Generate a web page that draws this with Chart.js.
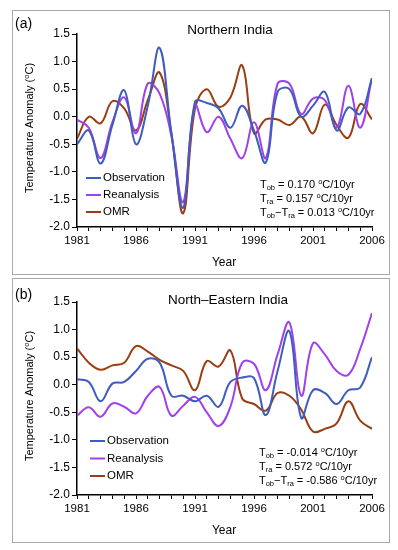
<!DOCTYPE html>
<html>
<head>
<meta charset="utf-8">
<script src="https://cdn.jsdelivr.net/npm/chart.js@4.4.0/dist/chart.umd.min.js"></script>
<style>
  body { margin: 0; background: #fff; }
  canvas { position: absolute; left: 12px; }
  #northChart { top: 10px; }
  #neChart { top: 278px; }
</style>
</head>
<body>
<canvas id="northChart" width="378" height="265"></canvas>
<canvas id="neChart" width="378" height="265"></canvas>
<script>
// years on the x axis, labelled every 5 years
const years = [1981, 1982, 1983, 1984, 1985, 1986, 1987, 1988, 1989, 1990, 1991, 1992, 1993,
               1994, 1995, 1996, 1997, 1998, 1999, 2000, 2001, 2002, 2003, 2004, 2005, 2006];
const yearLabels = [1981, 1986, 1991, 1996, 2001, 2006];
const seriesNames = ['Observation', 'Reanalysis', 'OMR'];

// (a) Northern India
const obsNorth = [-0.5, -0.25, -0.85, -0.15, 0.48, -0.5, 0.2, 1.25, -0.3, -1.65, 0.27, 0.25, 0.15,
                  -0.2, 0.2, -0.25, -0.83, 0.45, 0.5, 0.0, 0.2, 0.45, -0.25, 0.17, 0.05, 0.7];
const reaNorth = [-0.05, -0.2, -0.75, -0.1, 0.35, -0.3, 0.6, 0.42, -0.35, -1.55, 0.2, -0.28, 0.0,
                  -0.4, -0.75, -0.1, -0.75, 0.6, 0.6, 0.05, 0.33, 0.3, -0.2, 0.56, -0.2, 0.7];
const omrNorth = [-0.4, 0.0, -0.12, 0.28, 0.15, -0.25, 0.3, 0.8, -0.3, -1.75, 0.15, 0.5, 0.18,
                  0.35, 0.93, -0.3, -0.05, -0.05, -0.15, 0.0, -0.3, 0.22, -0.15, -0.38, 0.23, -0.05];
const trendNorth = ['0.170', '0.157', '0.013'];

// (b) North-Eastern India
const obsNE = [0.1, 0.05, -0.3, 0.02, 0.05, 0.25, 0.47, 0.4, -0.2, -0.2, -0.3, -0.2, -0.4,
               0.05, 0.13, 0.12, -0.55, 0.25, 0.97, -0.6, -0.1, -0.15, -0.35, -0.1, -0.05, 0.5];
const reaNE = [-0.56, -0.41, -0.58, -0.34, -0.4, -0.52, -0.2, -0.04, -0.56, -0.38, -0.22, -0.5, -0.75,
               -0.4, 0.4, 0.38, -0.1, 0.55, 1.13, -0.2, 0.75, 0.55, 0.25, 0.18, 0.65, 1.3];
const omrNE = [0.66, 0.4, 0.27, 0.35, 0.4, 0.7, 0.6, 0.45, 0.35, 0.25, -0.1, 0.43, 0.33,
               0.62, -0.25, -0.35, -0.47, -0.15, -0.2, -0.45, -0.85, -0.8, -0.7, -0.3, -0.65, -0.8];
const trendNE = ['-0.014', '0.572', '-0.586'];

const colors = ['#3f5cbf', '#a040ea', '#9a3d12'];
const fontFam = '"Liberation Sans", Arial, sans-serif';
Chart.defaults.color = '#000';
Chart.defaults.font.family = fontFam;

function drawRich(ctx, x, y, parts, size, dryRun) {
  let cx = x;
  parts.forEach(p => {
    const small = p.sub || p.sup;
    ctx.font = (small ? size * 0.68 : size) + 'px ' + fontFam;
    const dy = p.sub ? size * 0.3 : (p.sup ? -size * 0.32 : 0);
    if (!dryRun) ctx.fillText(p.t, cx, y + dy);
    cx += ctx.measureText(p.t).width;
  });
  return cx - x;
}

const panelText = {
  id: 'panelText',
  afterDraw(chart, args, o) {
    const ctx = chart.ctx;
    ctx.save();
    ctx.strokeStyle = '#a8a8a8';
    ctx.lineWidth = 1;
    ctx.strokeRect(0.5, 0.5, chart.width - 1, chart.height - 1);
    ctx.fillStyle = '#000';
    ctx.textBaseline = 'middle';
    ctx.textAlign = 'left';

    ctx.font = '14px ' + fontFam;
    ctx.fillText(o.tag, 3, o.tagY);
    ctx.textAlign = 'center';
    ctx.font = '13.5px ' + fontFam;
    ctx.fillText(o.title, o.titleX, o.titleY);
    ctx.font = '12px ' + fontFam;
    ctx.fillText('Year', 212, 253);

    // y axis title, rotated
    const yParts = [{ t: 'Temperature Anomaly (' }, { t: 'o', sup: true }, { t: 'C)' }];
    ctx.textAlign = 'left';
    const w = drawRich(ctx, 0, 0, yParts, 11, true);
    ctx.save();
    ctx.translate(18, 118);
    ctx.rotate(-Math.PI / 2);
    drawRich(ctx, -w / 2, 0, yParts, 11);
    ctx.restore();

    // legend
    seriesNames.forEach((name, i) => {
      const ly = o.legY + i * o.legGap;
      ctx.strokeStyle = colors[i];
      ctx.lineWidth = 2;
      ctx.beginPath();
      ctx.moveTo(o.legX, ly);
      ctx.lineTo(o.legX + 15, ly);
      ctx.stroke();
      ctx.font = '11.5px ' + fontFam;
      ctx.fillText(name, o.legX + 17, ly);
    });

    // trend text
    const t = o.trend;
    const rows = [
      [{ t: 'T' }, { t: 'ob', sub: true }, { t: ' = ' + t[0] + ' ' }, { t: 'o', sup: true }, { t: 'C/10yr' }],
      [{ t: 'T' }, { t: 'ra', sub: true }, { t: ' = ' + t[1] + ' ' }, { t: 'o', sup: true }, { t: 'C/10yr' }],
      [{ t: 'T' }, { t: 'ob', sub: true }, { t: '\u2212T' }, { t: 'ra', sub: true }, { t: ' = ' + t[2] + ' ' }, { t: 'o', sup: true }, { t: 'C/10yr' }]
    ];
    rows.forEach((r, i) => drawRich(ctx, o.trX, o.trY + i * 14, r, 11));
    ctx.restore();
  }
};

function makePanel(id, obs, rea, omr, text) {
  const pts = arr => years.map((yr, i) => ({ x: yr, y: arr[i] }));
  new Chart(document.getElementById(id), {
    type: 'line',
    data: {
      datasets: [obs, rea, omr].map((arr, i) => ({
        label: seriesNames[i],
        data: pts(arr),
        borderColor: colors[i],
        borderWidth: 2,
        pointRadius: 0,
        tension: 0.4,
        fill: false
      }))
    },
    options: {
      responsive: false,
      animation: false,
      layout: { padding: { top: 24, right: 18, left: 0, bottom: 0 } },
      plugins: {
        legend: { display: false },
        tooltip: { enabled: false },
        panelText: text
      },
      scales: {
        x: {
          type: 'linear',
          min: 1981,
          max: 2006,
          afterFit: s => { s.height = 48; },
          ticks: {
            stepSize: 1,
            autoSkip: false,
            maxRotation: 0,
            padding: 3,
            font: { size: 11.5 },
            callback: v => yearLabels.includes(v) ? String(v) : ''
          },
          grid: { drawOnChartArea: false, color: '#000', tickLength: 4 },
          border: { color: '#000', width: 1.5 }
        },
        y: {
          min: -2,
          max: 1.5,
          afterFit: s => { s.width = 65; },
          ticks: {
            stepSize: 0.5,
            padding: 2,
            font: { size: 12 },
            callback: v => v.toFixed(1)
          },
          grid: { drawOnChartArea: false, color: '#000', tickLength: 5 },
          border: { color: '#000', width: 1.5 }
        }
      }
    },
    plugins: [panelText]
  });
}

makePanel('northChart', obsNorth, reaNorth, omrNorth, {
  tag: '(a)', tagY: 14, title: 'Northern India', titleX: 218, titleY: 20,
  legX: 74, legY: 168, legGap: 17, trX: 248, trY: 175, trend: trendNorth
});
makePanel('neChart', obsNE, reaNE, omrNE, {
  tag: '(b)', tagY: 17, title: 'North\u2013Eastern India', titleX: 216, titleY: 22,
  legX: 78, legY: 163, legGap: 17.5, trX: 247, trY: 175, trend: trendNE
});
</script>
</body>
</html>
